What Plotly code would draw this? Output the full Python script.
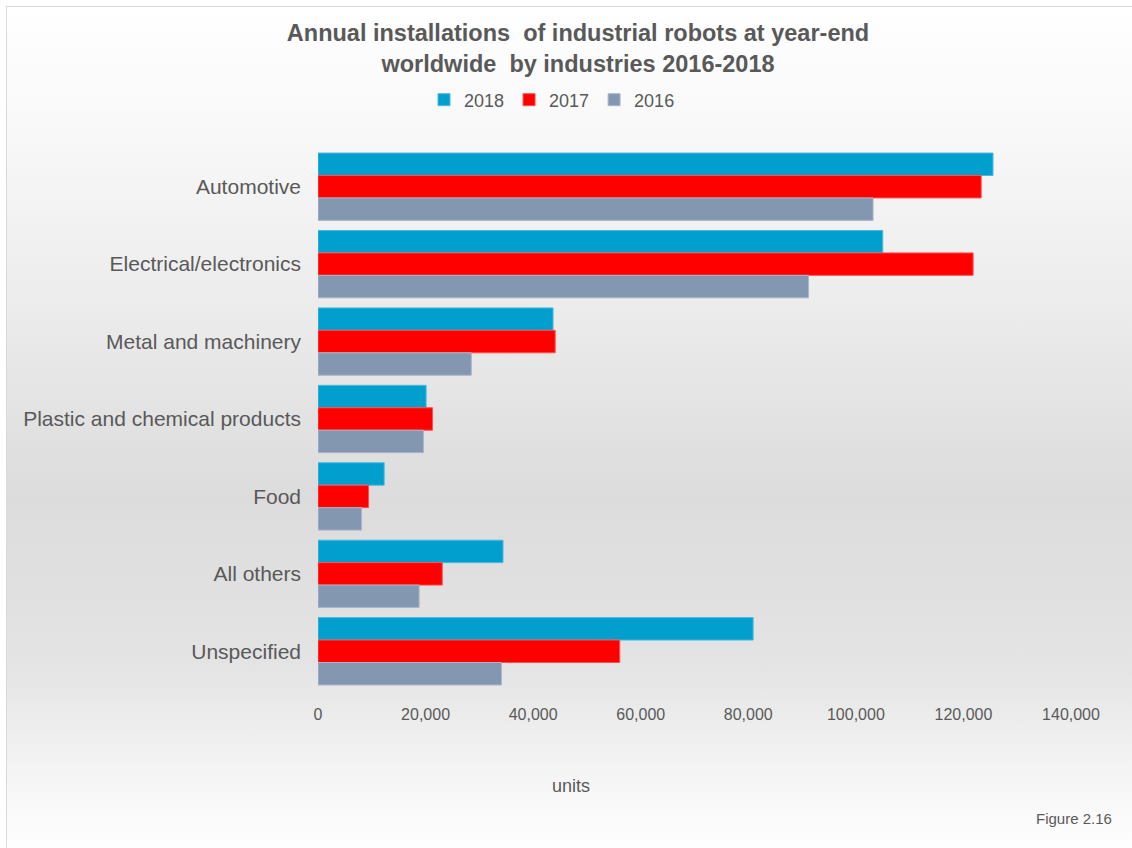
import base64
import plotly.graph_objects as go

categories = ["Automotive", "Electrical/electronics", "Metal and machinery",
              "Plastic and chemical products", "Food", "All others", "Unspecified"]
years = ["2018", "2017", "2016"]
values_2018 = [125500, 105000, 43700, 20100, 12300, 34400, 80900]
values_2017 = [123300, 121800, 44100, 21300, 9400, 23100, 56100]
values_2016 = [103200, 91200, 28500, 19600, 8100, 18800, 34100]
series_values = [values_2018, values_2017, values_2016]
colors = ["#009FCE", "#FF0000", "#8497B0"]
edge_colors = ["#4DB9DD", "#FF5050", "#A9B7CA"]
x_ticks = [0, 20000, 40000, 60000, 80000, 100000, 120000, 140000]

W, H = 1132, 848
L, R, T, B = 318, 1071, 148, 690
pw, ph = R - L, B - T

# background: vertical gradient with thin frame, as inline SVG
svg = f'''<svg xmlns="http://www.w3.org/2000/svg" width="{W}" height="{H}" viewBox="0 0 {W} {H}">
<defs><linearGradient id="g" x1="0" y1="0" x2="0" y2="1">
<stop offset="0" stop-color="#ffffff"/>
<stop offset="0.15" stop-color="#f8f8f8"/>
<stop offset="0.35" stop-color="#ececec"/>
<stop offset="0.58" stop-color="#dcdcdc"/>
<stop offset="0.78" stop-color="#e4e4e4"/>
<stop offset="0.90" stop-color="#f4f4f4"/>
<stop offset="1" stop-color="#ffffff"/>
</linearGradient></defs>
<rect x="0" y="0" width="{W}" height="{H}" fill="#ffffff"/>
<rect x="6" y="6" width="{W}" height="{H}" fill="url(#g)"/>
<line x1="6" y1="6.5" x2="{W}" y2="6.5" stroke="#d9d9d9" stroke-width="1"/>
<line x1="6.5" y1="6" x2="6.5" y2="{H}" stroke="#d9d9d9" stroke-width="1"/>
</svg>'''
bg_src = "data:image/svg+xml;base64," + base64.b64encode(svg.encode()).decode()

fig = go.Figure()
for name, vals, c, ec in zip(years, series_values, colors, edge_colors):
    fig.add_trace(go.Bar(
        y=categories, x=vals, name=name, orientation="h",
        marker=dict(color=c, line=dict(color=ec, width=1)),
    ))

narrow = "Liberation Sans Narrow, Arial Narrow, Liberation Sans, Arial, sans-serif"
reg = "Liberation Sans, Arial, sans-serif"

fig.update_layout(
    width=W, height=H,
    margin=dict(l=L, r=W - R, t=T, b=H - B, pad=0),
    paper_bgcolor="rgba(0,0,0,0)",
    plot_bgcolor="rgba(0,0,0,0)",
    barmode="group",
    bargap=0.13,
    bargroupgap=0,
    font=dict(family=reg, color="#595959"),
    title=dict(
        text="Annual installations  of industrial robots at year-end<br>worldwide  by industries 2016-2018",
        font=dict(family=reg, size=23.5, color="#595959", weight="bold"),
        x=578 / W, xanchor="center", xref="container",
        y=1 - 41 / H, yanchor="middle", yref="container",
    ),
    legend=dict(
        orientation="h", x=(552 - L) / pw, xanchor="center",
        y=1 + (T - 100) / ph, yanchor="middle",
        font=dict(family=reg, size=18, color="#595959"),
        bgcolor="rgba(0,0,0,0)", itemwidth=30, tracegroupgap=0,
    ),
    xaxis=dict(
        range=[0, 140000], tickvals=x_ticks, tickformat=",d",
        showgrid=False, zeroline=False, showline=False, ticks="",
        tickfont=dict(family=narrow, size=16, color="#595959"),
        ticklabelstandoff=13,
    ),
    yaxis=dict(
        categoryorder="array", categoryarray=categories, autorange="reversed",
        showgrid=False, zeroline=False, showline=False, ticks="",
        tickfont=dict(family=reg, size=21, color="#595959"),
        ticklabelstandoff=16,
    ),
    images=[dict(
        source=bg_src, xref="paper", yref="paper",
        x=-L / pw, y=1 + T / ph, sizex=W / pw, sizey=H / ph,
        xanchor="left", yanchor="top", sizing="stretch", layer="below",
    )],
    annotations=[
        dict(text="units", xref="paper", yref="paper",
             x=(571 - L) / pw, y=-(786 - B) / ph, xanchor="center", yanchor="middle",
             showarrow=False, font=dict(family=narrow, size=18, color="#595959")),
        dict(text="Figure 2.16", xref="paper", yref="paper",
             x=(1114 - L) / pw, y=-(818 - B) / ph, xanchor="right", yanchor="middle",
             showarrow=False, font=dict(family=narrow, size=15, color="#595959")),
    ],
)

fig.write_html("out.html")
